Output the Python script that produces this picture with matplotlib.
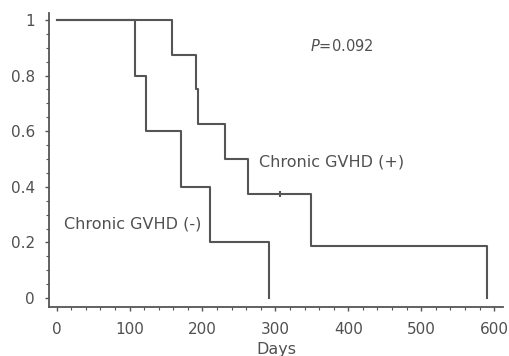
import matplotlib
matplotlib.use("Agg")
import matplotlib.pyplot as plt
from matplotlib.ticker import MultipleLocator

# Kaplan-Meier step data
neg_days = [0, 108, 122, 171, 210, 291]
neg_surv = [1.0, 0.8, 0.6, 0.4, 0.2, 0.0]

pos_days = [0, 158, 191, 194, 231, 263, 349, 590]
pos_surv = [1.0, 0.875, 0.75, 0.625, 0.5, 0.375, 0.1875, 0.0]

censor_days = [306]
censor_surv = [0.375]

x_ticks = [0, 100, 200, 300, 400, 500, 600]
y_ticks = [0, 0.2, 0.4, 0.6, 0.8, 1]
y_tick_labels = ["0", "0.2", "0.4", "0.6", "0.8", "1"]

plt.rcParams['font.family'] = ['DejaVu Sans']
col = "#555555"
txtcol = "#505050"

fig = plt.figure(figsize=(5.10, 3.56), dpi=100)
ax = fig.add_axes([0.096, 0.1376, 0.89, 0.826])

ax.step(neg_days, neg_surv, where="post", color=col, lw=1.5)
ax.step(pos_days, pos_surv, where="post", color=col, lw=1.5)
ax.plot(censor_days, censor_surv, marker="|", color=col, ms=5, mew=1.5, ls="none")

ax.set_xlim(-10.6, 612)
ax.set_ylim(-0.032, 1.025)
ax.set_xticks(x_ticks)
ax.set_yticks(y_ticks)
ax.set_yticklabels(y_tick_labels)
ax.xaxis.set_minor_locator(MultipleLocator(20))
ax.yaxis.set_minor_locator(MultipleLocator(0.05))

for s in ["top", "right"]:
    ax.spines[s].set_visible(False)
for s in ["left", "bottom"]:
    ax.spines[s].set_color(col)
    ax.spines[s].set_linewidth(1.3)

ax.tick_params(axis="both", which="major", direction="out", length=3, width=1, color=col,
               labelsize=11, labelcolor=txtcol)
ax.tick_params(axis="x", which="major", pad=8)
ax.tick_params(axis="y", which="major", pad=7)
ax.tick_params(axis="both", which="minor", direction="out", length=2, width=0.8, color=col)

ax.text(347, 0.905, r"$\it{P}$=0.092", fontsize=10.5, color=txtcol, ha="left", va="center")
ax.text(277, 0.49, "Chronic GVHD (+)", fontsize=11.5, color=txtcol, ha="left", va="center")
ax.text(9.5, 0.268, "Chronic GVHD (-)", fontsize=11.5, color=txtcol, ha="left", va="center")
ax.set_xlabel("Days", fontsize=11.5, color=txtcol, labelpad=3.5)

fig.savefig("out.png", dpi=100)
